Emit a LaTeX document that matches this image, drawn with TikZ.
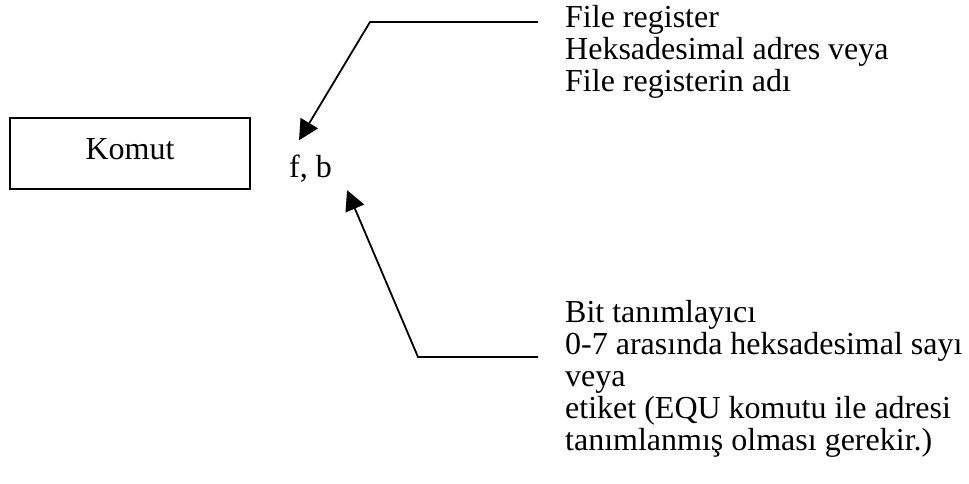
\documentclass[tikz,border=0pt]{standalone}
\usepackage{fontspec}
\setmainfont{Liberation Serif}
\usetikzlibrary{arrows.meta,positioning}
\tikzset{cmdbox/.style={draw,line width=1.8pt,minimum width=240pt,minimum height=71pt,
  text height=22pt,text depth=10pt,font=\fontsize{32}{32}\selectfont},
  operand/.style={inner sep=1pt,font=\fontsize{32}{32}\selectfont},
  note/.style={align=left,inner sep=0pt,font=\fontsize{32}{32}\selectfont},
  pointer/.style={-{Triangle[length=20pt,width=20pt]},line width=1.8pt}}

\begin{document}
\begin{tikzpicture}[x=1pt,y=-1pt]
\useasboundingbox (0,0) rectangle (969,484);
\node[cmdbox] (komut) at (130,153.5) {Komut};
\node[operand,anchor=base west] (fb) at (288,177) {f, b};
% base of a multi-line note is its last line
\node[note,anchor=base west] (reg) at (565,92) {File register\\Heksadesimal adres veya\\File registerin adı};
\node[note,anchor=base west] (bit) at (565,450) {Bit tanımlayıcı\\0-7 arasında heksadesimal sayı\\veya\\etiket (EQU komutu ile adresi\\tanımlanmış olması gerekir.)};
% leader lines into f and b
\coordinate (regtail) at (538,22);
\coordinate (regbend) at (370,22);
\coordinate (bittail) at (538,357);
\coordinate (bitbend) at (418,357);
\draw[pointer] (regtail) -- (regbend) -- ([xshift=11pt,yshift=13pt]fb.north west);
\draw[pointer] (bittail) -- (bitbend) -- ([xshift=14pt,yshift=-7pt]fb.south east);
\end{tikzpicture}
\end{document}
